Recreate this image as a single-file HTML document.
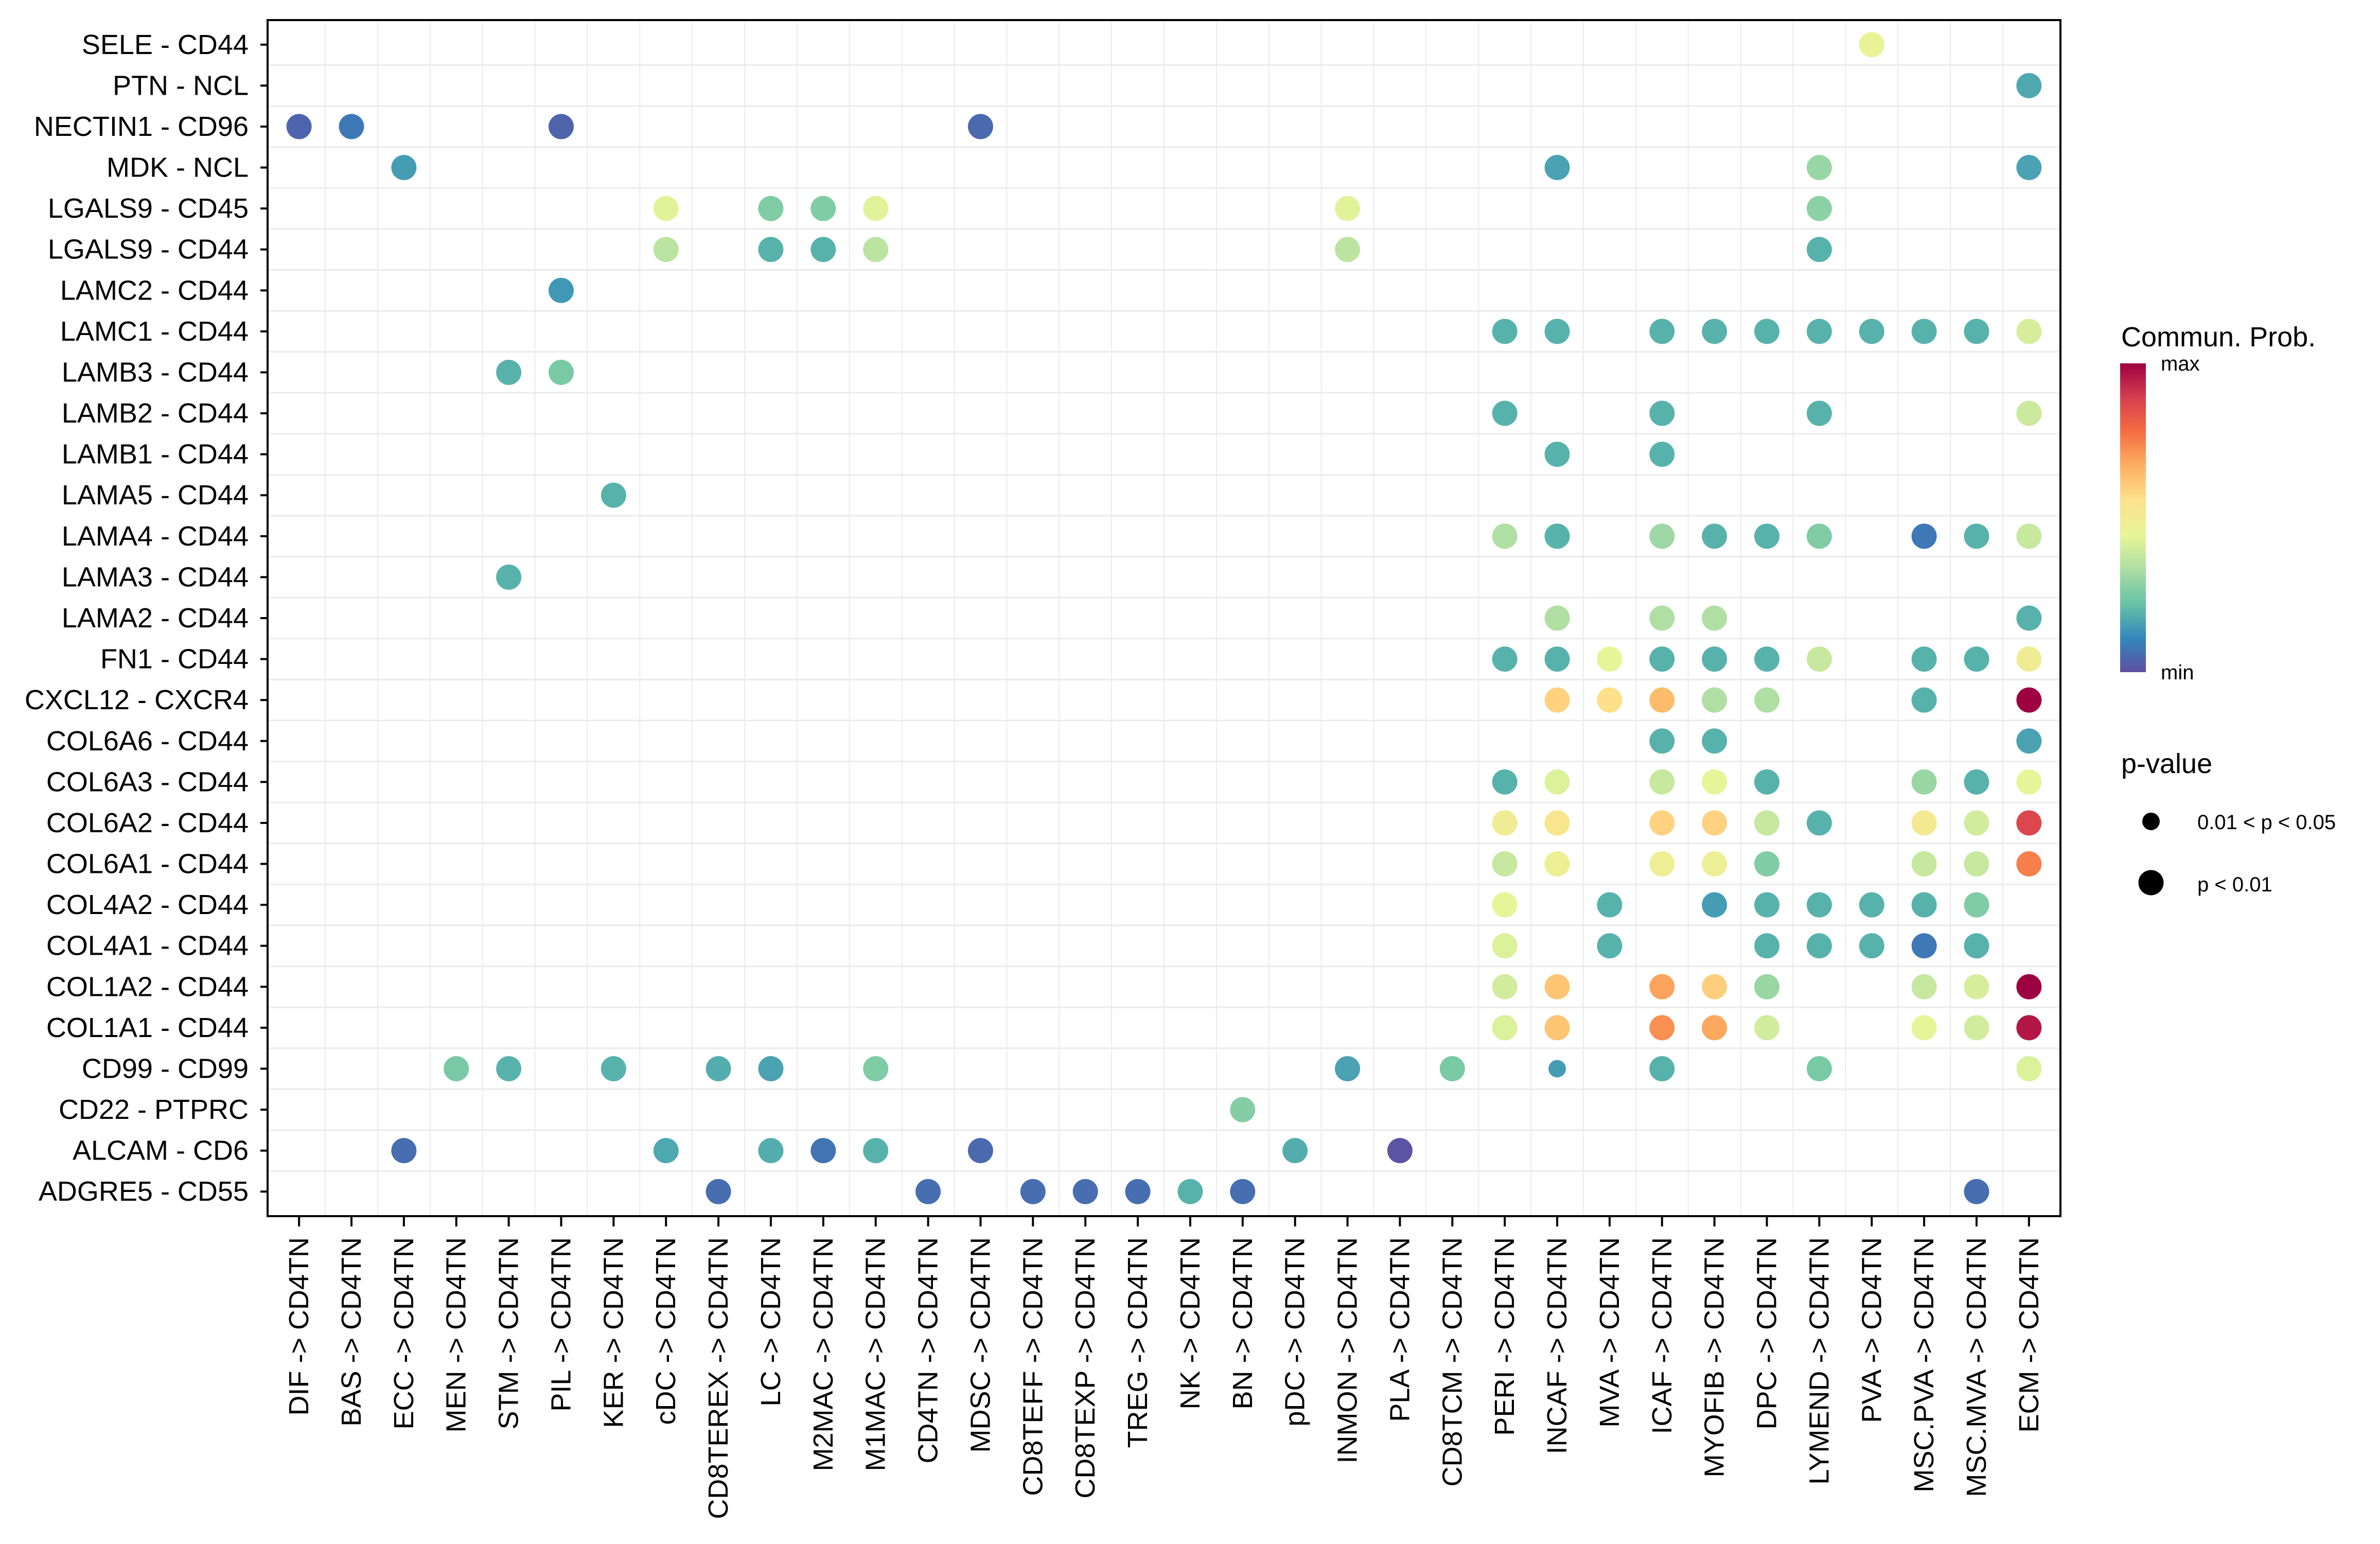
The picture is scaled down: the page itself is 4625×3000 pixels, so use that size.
<!DOCTYPE html>
<html><head><meta charset="utf-8"><style>
html,body{margin:0;padding:0;background:#fff;}
svg{display:block;font-family:"Liberation Sans",sans-serif;}
</style></head><body>
<svg id="chart" width="4625" height="3000" viewBox="0 0 4625 3000" xmlns="http://www.w3.org/2000/svg">
<defs>
<linearGradient id="cbar" x1="0" y1="1" x2="0" y2="0">
<stop offset="0" stop-color="#5E4FA2"/><stop offset="0.11" stop-color="#3288BD"/><stop offset="0.22" stop-color="#66C2A5"/><stop offset="0.33" stop-color="#ABDDA4"/><stop offset="0.44" stop-color="#E6F598"/><stop offset="0.56" stop-color="#FEE08B"/><stop offset="0.67" stop-color="#FDAE61"/><stop offset="0.78" stop-color="#F46D43"/><stop offset="0.89" stop-color="#D53E4F"/><stop offset="1" stop-color="#9E0142"/>
</linearGradient>
</defs>
<rect x="0" y="0" width="4625" height="3000" fill="#fff"/>
<g id="grid"></g>
<g id="dots"></g>
<rect x="520" y="39" width="3484" height="2324" fill="none" stroke="#000" stroke-width="4"/>
<g id="yaxis"></g>
<g id="xaxis"></g>
<g>
<text x="4122" y="673" font-size="54">Commun. Prob.</text>
<rect x="4120" y="706" width="50" height="600" fill="url(#cbar)"/>
<text x="4199" y="720" font-size="40">max</text>
<text x="4199" y="1320" font-size="40">min</text>
</g>
<g>
<text x="4122" y="1502" font-size="54">p-value</text>
<circle cx="4180" cy="1596" r="17" fill="#000"/>
<text x="4270" y="1611" font-size="40">0.01 &lt; p &lt; 0.05</text>
<circle cx="4180" cy="1715" r="24.5" fill="#000"/>
<text x="4270" y="1732" font-size="40">p &lt; 0.01</text>
</g>
</svg>
<script>
const sources = ["DIF","BAS","ECC","MEN","STM","PIL","KER","cDC","CD8TEREX","LC","M2MAC","M1MAC","CD4TN","MDSC","CD8TEFF","CD8TEXP","TREG","NK","BN","pDC","INMON","PLA","CD8TCM","PERI","INCAF","MVA","ICAF","MYOFIB","DPC","LYMEND","PVA","MSC.PVA","MSC.MVA","ECM"];
const pairs = ["SELE - CD44","PTN - NCL","NECTIN1 - CD96","MDK - NCL","LGALS9 - CD45","LGALS9 - CD44","LAMC2 - CD44","LAMC1 - CD44","LAMB3 - CD44","LAMB2 - CD44","LAMB1 - CD44","LAMA5 - CD44","LAMA4 - CD44","LAMA3 - CD44","LAMA2 - CD44","FN1 - CD44","CXCL12 - CXCR4","COL6A6 - CD44","COL6A3 - CD44","COL6A2 - CD44","COL6A1 - CD44","COL4A2 - CD44","COL4A1 - CD44","COL1A2 - CD44","COL1A1 - CD44","CD99 - CD99","CD22 - PTPRC","ALCAM - CD6","ADGRE5 - CD55"];
// each entry: [pairIndex, sourceIndex, prob(0..1 scaled), pLevel(1 = p<0.01, 2 = 0.01<p<0.05)]
const dotPair = [0,1,2,2,2,2,3,3,3,3,4,4,4,4,4,4,5,5,5,5,5,5,6,
7,7,7,7,7,7,7,7,7,7,8,8,9,9,9,9,10,10,11,
12,12,12,12,12,12,12,12,12,13,14,14,14,14,
15,15,15,15,15,15,15,15,15,15,16,16,16,16,16,16,16,17,17,17,
18,18,18,18,18,18,18,18,19,19,19,19,19,19,19,19,19,
20,20,20,20,20,20,20,20,21,21,21,21,21,21,21,21,22,22,22,22,22,22,22,
23,23,23,23,23,23,23,23,24,24,24,24,24,24,24,24,
25,25,25,25,25,25,25,25,25,25,25,25,26,27,27,27,27,27,27,27,27,
28,28,28,28,28,28,28,28];
const dotSource = [30,33,0,1,5,13,2,24,29,33,7,9,10,11,20,29,7,9,10,11,20,29,5,
23,24,26,27,28,29,30,31,32,33,4,5,23,26,29,33,24,26,6,
23,24,26,27,28,29,31,32,33,4,24,26,27,33,
23,24,25,26,27,28,29,31,32,33,24,25,26,27,28,31,33,26,27,33,
23,24,26,27,28,31,32,33,23,24,26,27,28,29,31,32,33,
23,24,26,27,28,31,32,33,23,25,27,28,29,30,31,32,23,25,28,29,30,31,32,
23,24,26,27,28,31,32,33,23,24,26,27,28,31,32,33,
3,4,6,8,9,11,20,22,24,26,29,33,18,2,7,9,10,11,13,19,21,
8,12,14,15,16,17,18,32];
const dotProb = [0.45,0.17,0.04,0.08,0.04,0.05,0.15,0.16,0.30,0.16,0.43,0.26,0.26,0.43,0.43,0.28,0.36,0.19,0.19,0.36,0.36,0.19,0.14,
0.19,0.19,0.19,0.19,0.19,0.19,0.19,0.19,0.19,0.41,0.19,0.25,0.19,0.19,0.19,0.39,0.19,0.19,0.19,
0.34,0.19,0.31,0.19,0.19,0.26,0.08,0.19,0.38,0.19,0.34,0.34,0.34,0.19,
0.19,0.19,0.44,0.19,0.19,0.19,0.38,0.19,0.19,0.49,0.59,0.56,0.64,0.34,0.34,0.19,1.0,0.19,0.19,0.16,
0.19,0.42,0.38,0.44,0.19,0.30,0.19,0.44,0.49,0.53,0.59,0.59,0.38,0.19,0.51,0.40,0.87,
0.38,0.48,0.48,0.48,0.26,0.38,0.38,0.75,0.44,0.19,0.15,0.19,0.19,0.19,0.19,0.26,0.42,0.19,0.19,0.19,0.19,0.08,0.19,
0.40,0.62,0.69,0.60,0.30,0.38,0.41,1.0,0.42,0.62,0.72,0.68,0.40,0.44,0.40,0.96,
0.25,0.19,0.19,0.18,0.16,0.26,0.16,0.25,0.15,0.19,0.25,0.42,0.27,0.06,0.17,0.18,0.07,0.19,0.05,0.18,0.01,
0.06,0.06,0.06,0.06,0.06,0.19,0.06,0.06];
const dotPLevel = dotProb.map((_,i)=> (dotPair[i]===25 && dotSource[i]===24) ? 2 : 1);

const NS="http://www.w3.org/2000/svg";
const X0=520, X1=4004, Y0=39, Y1=2363;
const xScale = i => X0 + (i+0.6)*(X1-X0)/(sources.length-1+1.2);
const yScale = j => Y0 + (j+0.6)*(Y1-Y0)/(pairs.length-1+1.2);
const stops=[[0,"#5E4FA2"],[0.11,"#3288BD"],[0.22,"#66C2A5"],[0.33,"#ABDDA4"],[0.44,"#E6F598"],[0.56,"#FEE08B"],[0.67,"#FDAE61"],[0.78,"#F46D43"],[0.89,"#D53E4F"],[1,"#9E0142"]];
function hex(h){return [1,3,5].map(k=>parseInt(h.substr(k,2),16));}
function colorOf(v){
  v=Math.max(0,Math.min(1,v));
  for(let k=0;k<stops.length-1;k++){
    const a=stops[k],b=stops[k+1];
    if(v<=b[0]){const t=(v-a[0])/(b[0]-a[0]);const ca=hex(a[1]),cb=hex(b[1]);
      return "rgb("+ca.map((c,q)=>Math.round(c+(cb[q]-c)*t)).join(",")+")";}
  }
  return stops[stops.length-1][1];
}
function mk(tag,attrs,parent){const e=document.createElementNS(NS,tag);for(const k in attrs)e.setAttribute(k,attrs[k]);parent.appendChild(e);return e;}

const grid=document.getElementById('grid');
const dx=(xScale(1)-xScale(0)), dy=(yScale(1)-yScale(0));
for(let i=0;i<sources.length-1;i++){
  const x=xScale(i)+dx/2;
  const l=mk('line',{x1:x,x2:x,y1:Y0,y2:Y1,stroke:'#EBEBEB','stroke-width':2},grid);
  
  
}
for(let j=0;j<pairs.length-1;j++){
  const y=yScale(j)+dy/2;
  const l=mk('line',{x1:X0,x2:X1,y1:y,y2:y,stroke:'#EBEBEB','stroke-width':3},grid);
  
  
}

const yaxis=document.getElementById('yaxis');
pairs.forEach((p,j)=>{
  const y=yScale(j);
  const t=mk('line',{x1:506,x2:520,y1:y,y2:y,stroke:'#000','stroke-width':4},yaxis);
  
  
  const tx=mk('text',{x:483,y:y,'font-size':54,'text-anchor':'end','dominant-baseline':'central'},yaxis);
  tx.textContent=p;
  
  
});
const xaxis=document.getElementById('xaxis');
sources.forEach((s,i)=>{
  const x=xScale(i);
  const t=mk('line',{x1:x,x2:x,y1:Y1,y2:Y1+20,stroke:'#000','stroke-width':4},xaxis);
  
  
  const tx=mk('text',{x:0,y:0,'font-size':54,'text-anchor':'end','dominant-baseline':'central',transform:'translate('+x+',2404) rotate(-90)'},xaxis);
  tx.textContent=s+" -> CD4TN";
  
  
});

const dots=document.getElementById('dots');
dotProb.forEach((v,k)=>{
  const c=mk('circle',{cx:xScale(dotSource[k]),cy:yScale(dotPair[k]),r:dotPLevel[k]===1?24.5:17,fill:colorOf(v)},dots);
  
  
});
</script>
</body></html>
